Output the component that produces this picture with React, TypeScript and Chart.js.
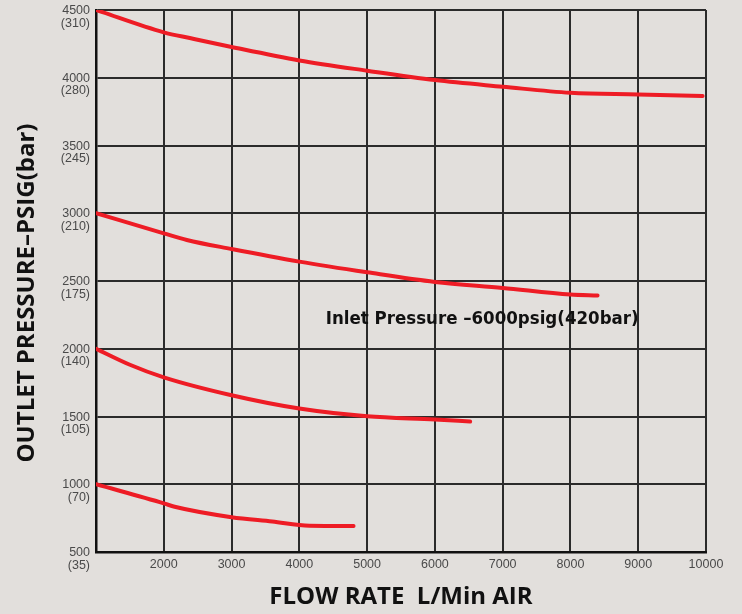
import React, { useEffect, useRef } from 'react';
import { Chart, registerables } from 'chart.js';

Chart.register(...registerables);

// ---- data ----
const yTickPsig = [500, 1000, 1500, 2000, 2500, 3000, 3500, 4000, 4500];
const yTickBar = ['(35)', '(70)', '(105)', '(140)', '(175)', '(210)', '(245)', '(280)', '(310)'];
const xTickLabels = ['', '2000', '3000', '4000', '5000', '6000', '7000', '8000', '9000', '10000'];

const curve4500Flow = [1000, 2000, 2400, 3000, 4000, 5000, 6000, 7000, 8000, 9000, 9950];
const curve4500Psig = [4500, 4335, 4291, 4227, 4128, 4052, 3983, 3934, 3889, 3877, 3865];

const curve3000Flow = [1000, 2000, 2340, 3000, 4000, 5000, 6000, 7000, 8000, 8400];
const curve3000Psig = [3000, 2852, 2803, 2736, 2643, 2564, 2493, 2449, 2400, 2393];

const curve2000Flow = [1000, 1500, 2000, 3000, 4000, 5000, 6000, 6520];
const curve2000Psig = [2000, 1882, 1789, 1657, 1559, 1502, 1478, 1463];

const curve1000Flow = [1000, 2000, 2160, 3000, 3600, 4150, 4800];
const curve1000Psig = [1000, 859, 834, 757, 725, 694, 692];

const noteText = 'Inlet Pressure –6000psig(420bar)';
const noteFlow = 4390;
const notePsig = 2218;

const xTitle = 'FLOW RATE  L/Min AIR';
const yTitle = 'OUTLET PRESSURE–PSIG(bar)';

// ---- styles ----
const BG = '#e2dfdc';
const RED = '#ee1c25';
const GRID = '#2b2b2b';
const TICK = '#4a4a4a';

const toPoints = (xs: number[], ys: number[]) => xs.map((x, i) => ({ x, y: ys[i] }));

const bgPlugin = {
  id: 'bgFill',
  beforeDraw(chart: any) {
    const ctx = chart.ctx;
    ctx.save();
    ctx.fillStyle = BG;
    ctx.fillRect(0, 0, chart.width, chart.height);
    ctx.restore();
  },
};

const textPlugin = {
  id: 'texts',
  afterDatasetsDraw(chart: any) {
    const ctx = chart.ctx;
    const xs = chart.scales.x;
    const ys = chart.scales.y;
    ctx.save();
    ctx.fillStyle = '#111';
    ctx.font = "bold 18.5px 'DejaVu Sans Condensed', 'DejaVu Sans'";
    ctx.textAlign = 'left';
    ctx.textBaseline = 'middle';
    ctx.fillText(noteText, xs.getPixelForValue(noteFlow), ys.getPixelForValue(notePsig));
    ctx.restore();

    ctx.save();
    ctx.fillStyle = '#111';
    ctx.font = "bold 24px 'Open Sans'";
    ctx.textAlign = 'center';
    ctx.textBaseline = 'middle';
    ctx.translate(27, 293);
    ctx.rotate(-Math.PI / 2);
    ctx.fillText(yTitle, 0, 0);
    ctx.restore();
  },
};

export default function App() {
  const ref = useRef<HTMLCanvasElement | null>(null);

  useEffect(() => {
    document.body.style.background = BG;
    const canvas = ref.current;
    if (!canvas) return;
    const mk = (xs: number[], ys: number[]) => ({
      data: toPoints(xs, ys),
      borderColor: RED,
      borderWidth: 4,
      pointRadius: 0,
      cubicInterpolationMode: 'monotone' as const,
      borderCapStyle: 'round' as const,
      fill: false,
    });
    const chart = new Chart(canvas, {
      type: 'line',
      data: {
        datasets: [
          mk(curve4500Flow, curve4500Psig),
          mk(curve3000Flow, curve3000Psig),
          mk(curve2000Flow, curve2000Psig),
          mk(curve1000Flow, curve1000Psig),
        ],
      },
      options: {
        animation: false,
        responsive: false,
        maintainAspectRatio: false,
        layout: { padding: { top: 10, right: 36, left: 0, bottom: 0 } },
        plugins: { legend: { display: false }, tooltip: { enabled: false } },
        scales: {
          x: {
            type: 'linear',
            min: 1000,
            max: 10000,
            ticks: {
              stepSize: 1000,
              color: TICK,
              font: { family: "'Liberation Sans', Arial", size: 12.5 },
              padding: 5,
              maxRotation: 0,
              autoSkip: false,
              callback: (_v: any, i: number) => xTickLabels[i],
            },
            grid: { color: GRID, lineWidth: 2, drawTicks: false },
            border: { display: true, color: '#111', width: 2.5 },
            title: {
              display: true,
              text: xTitle,
              color: '#111',
              font: { family: "'Open Sans'", size: 24, weight: 'bold' },
              padding: { top: 0, bottom: 2 },
            },
            afterFit: (s: any) => {
              s.height = 62;
              s.paddingLeft = 0;
              s.paddingRight = 0;
            },
          },
          y: {
            type: 'linear',
            min: 500,
            max: 4500,
            ticks: {
              stepSize: 500,
              color: TICK,
              font: { family: "'Liberation Sans', Arial", size: 12.5, lineHeight: 1.0 },
              padding: 6,
              labelOffset: 7,
              autoSkip: false,
              callback: (_v: any, i: number) => [String(yTickPsig[i]), yTickBar[i]],
            },
            grid: { color: GRID, lineWidth: 2, drawTicks: false },
            border: { display: true, color: '#111', width: 2.5 },
            afterFit: (s: any) => {
              s.width = 96;
              s.paddingTop = 0;
              s.paddingBottom = 0;
            },
          },
        },
      },
      plugins: [bgPlugin, textPlugin],
    });
    return () => chart.destroy();
  }, []);

  return (
    <div style={{ position: 'fixed', left: 0, top: 0, width: 742, height: 614, background: BG }}>
      <canvas ref={ref} width={742} height={614} style={{ width: 742, height: 614, display: 'block' }} />
    </div>
  );
}
